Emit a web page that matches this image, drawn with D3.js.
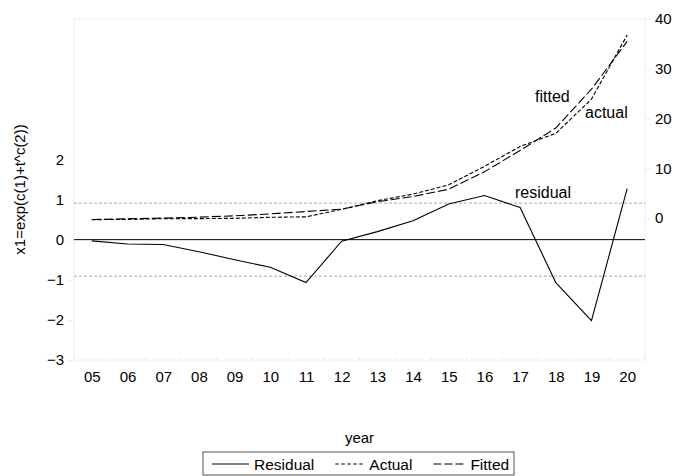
<!DOCTYPE html>
<html>
<head>
<meta charset="utf-8">
<script src="https://cdn.jsdelivr.net/npm/d3@7"></script>
<style>
  body { margin: 0; background: #fff; }
  text { font-family: "Liberation Sans", Arial, sans-serif; fill: #000; }
</style>
</head>
<body>
<div id="chart"></div>
<script>
// data
const years = ['05','06','07','08','09','10','11','12','13','14','15','16','17','18','19','20'];
const residual = [-0.03, -0.11, -0.12, -0.3, -0.5, -0.69, -1.07, -0.04, 0.2, 0.47, 0.89, 1.1, 0.8, -1.07, -2.02, 1.27];
const fitted = [-0.28, -0.14, 0.0, 0.2, 0.46, 0.86, 1.33, 1.8, 3.3, 4.35, 5.8, 9.3, 13.6, 18.1, 25.9, 35.5];
const actual = fitted.map((f, i) => +(f + residual[i]).toFixed(2));
const leftTicks = [-3, -2, -1, 0, 1, 2];
const rightTicks = [0, 10, 20, 30, 40];
const bandLevel = 0.91; // +/- 1 s.e. guides

const width = 673, height = 476;
const m = { left: 74, right: 645, top: 19, bottom: 360 };

const svg = d3.select('#chart').append('svg')
  .attr('width', width)
  .attr('height', height);

const x = d3.scalePoint().domain(years).range([m.left, m.right]).padding(0.5);
const yL = d3.scaleLinear().domain([-3, 5.5]).range([m.bottom, m.top]);
const yR = d3.scaleLinear().domain([-28.5, 40]).range([m.bottom, m.top]);

// faint plot frame
svg.append('rect')
  .attr('x', m.left).attr('y', m.top)
  .attr('width', m.right - m.left).attr('height', m.bottom - m.top)
  .attr('fill', 'none').attr('stroke', '#efefef');

// left axis
const leftAxis = svg.append('g')
  .attr('transform', `translate(${m.left},0)`)
  .call(d3.axisLeft(yL).tickValues(leftTicks).tickSize(6).tickPadding(4).tickFormat(d3.format('d')));
// right axis
const rightAxis = svg.append('g')
  .attr('transform', `translate(${m.right},0)`)
  .call(d3.axisRight(yR).tickValues(rightTicks).tickSize(6).tickPadding(4));
// x axis: ticks at category boundaries, labels at centres
const step = x.step();
const xAxis = svg.append('g')
  .attr('transform', `translate(0,${m.bottom})`)
  .call(d3.axisBottom(x).tickSize(0).tickPadding(11));
xAxis.selectAll('.bnd')
  .data(d3.range(years.length + 1))
  .enter().append('line')
  .attr('class', 'bnd')
  .attr('x1', i => m.left + i * step).attr('x2', i => m.left + i * step)
  .attr('y1', -4).attr('y2', 0)
  .attr('stroke', '#eee');

[leftAxis, rightAxis, xAxis].forEach(a => {
  a.select('.domain').remove();
  a.selectAll('.tick line').attr('stroke', '#eee');
  a.selectAll('text').style('font-size', '15px').style('font-family', '"Liberation Sans", Arial, sans-serif').attr('fill', '#000');
});

// reference lines
svg.append('line')
  .attr('x1', m.left).attr('x2', m.right)
  .attr('y1', yL(0)).attr('y2', yL(0))
  .attr('stroke', '#000').attr('stroke-width', 1);
[bandLevel, -bandLevel].forEach(v => {
  svg.append('line')
    .attr('x1', m.left).attr('x2', m.right)
    .attr('y1', yL(v)).attr('y2', yL(v))
    .attr('stroke', '#a8a8a8').attr('stroke-width', 1)
    .attr('stroke-dasharray', '3,2');
});

// series
const lineL = d3.line().x((d, i) => x(years[i])).y(d => yL(d));
const lineR = d3.line().x((d, i) => x(years[i])).y(d => yR(d));

svg.append('path').datum(residual)
  .attr('d', lineL).attr('fill', 'none').attr('stroke', '#000').attr('stroke-width', 1.1);
svg.append('path').datum(actual)
  .attr('d', lineR).attr('fill', 'none').attr('stroke', '#000').attr('stroke-width', 1.1)
  .attr('stroke-dasharray', '4,2');
svg.append('path').datum(fitted)
  .attr('d', lineR).attr('fill', 'none').attr('stroke', '#000').attr('stroke-width', 1.1)
  .attr('stroke-dasharray', '9,3');

// in-plot labels
svg.append('text').attr('x', 535).attr('y', 102).style('font-size', '16px').text('fitted');
svg.append('text').attr('x', 585).attr('y', 118).style('font-size', '16px').text('actual');
svg.append('text').attr('x', 515).attr('y', 198).style('font-size', '16px').text('residual');

// axis titles
svg.append('text')
  .attr('transform', `translate(25,${(m.top + m.bottom) / 2}) rotate(-90)`)
  .attr('text-anchor', 'middle')
  .style('font-size', '15px')
  .text('x1=exp(c(1)+t^c(2))');
svg.append('text')
  .attr('x', (m.left + m.right) / 2).attr('y', 443)
  .attr('text-anchor', 'middle')
  .style('font-size', '15px')
  .text('year');

// legend
const legendItems = [
  { name: 'Residual', dash: null, len: 37 },
  { name: 'Actual', dash: '3.5,2.5', len: 29 },
  { name: 'Fitted', dash: '8,3', len: 32 }
];
const legend = svg.append('g').attr('transform', 'translate(203,452)');
legend.append('rect')
  .attr('width', 311).attr('height', 23)
  .attr('fill', '#fff').attr('stroke', '#555');
let lx = 9;
legendItems.forEach(it => {
  legend.append('line')
    .attr('x1', lx).attr('x2', lx + it.len)
    .attr('y1', 12).attr('y2', 12)
    .attr('stroke', '#000')
    .attr('stroke-dasharray', it.dash);
  const t = legend.append('text')
    .attr('x', lx + it.len + 5).attr('y', 17.5)
    .style('font-size', '15.5px')
    .text(it.name);
  lx += it.len + 5 + t.node().getComputedTextLength() + 21;
});
</script>
</body>
</html>
